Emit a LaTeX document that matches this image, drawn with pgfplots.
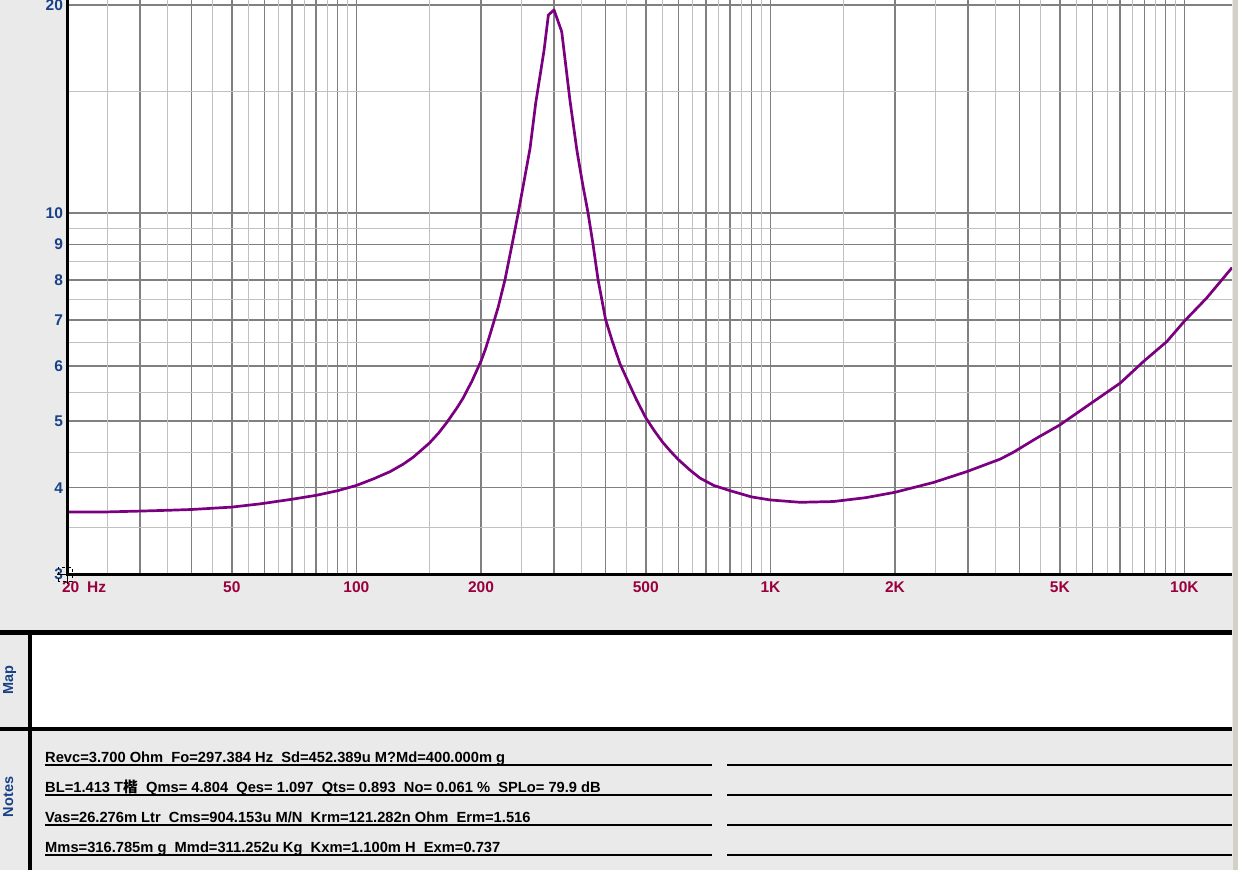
\documentclass[border=0pt]{standalone}
\usepackage{pgfplots}
\pgfplotsset{compat=1.18}
\usepackage{fontspec}
\setmainfont{Liberation Sans}
\newfontfamily\cjk{Noto Sans CJK SC}
\definecolor{bg}{RGB}{234,234,234}
\definecolor{gdark}{RGB}{128,128,128}
\definecolor{glight}{RGB}{192,192,192}
\definecolor{curve}{RGB}{122,0,128}
\definecolor{xlab}{RGB}{153,0,61}
\definecolor{ylab}{RGB}{25,65,135}
\definecolor{edge}{RGB}{212,208,200}
\pgfplotstableread{
f Z
20 3.69
25 3.69
30 3.70
35 3.71
40 3.72
50 3.75
58.5 3.79
70 3.85
80 3.90
90 3.96
100 4.03
110 4.12
120.6 4.22
130 4.33
137.3 4.43
150 4.64
158 4.80
165.3 4.97
175 5.22
181.3 5.40
185 5.53
190 5.70
195 5.90
200 6.10
205 6.35
210 6.65
215 6.97
220 7.30
228.5 8.0
237.7 9.0
246 10.0
254 11.1
262.7 12.4
271 14.4
284 17.2
290.9 19.34
300.2 19.67
313.3 18.29
328 14.55
341 12.3
352 11.0
362.7 10.0
372.9 9.0
383.5 8.0
400 7.0
415 6.52
433 6.05
453 5.70
475 5.36
500 5.05
525 4.83
550 4.65
575 4.51
600 4.39
640 4.24
676 4.13
730 4.03
800 3.96
900 3.88
1000 3.84
1180 3.81
1420 3.82
1700 3.87
2000 3.94
2475 4.07
2980 4.22
3590 4.40
3860 4.50
4400 4.72
5000 4.93
6030 5.33
7000 5.67
7960 6.09
9065 6.51
10000 6.97
11320 7.53
13032 8.33
}\zdata
\begin{document}
\begin{tikzpicture}[x=1pt,y=1pt]
\fill[bg] (0,0) rectangle (1238,870);
\begin{axis}[
  at={(67pt,296pt)}, anchor=south west,
  scale only axis, width=1165pt, height=574pt,
  xmode=log, ymode=log,
  xmin=20, xmax=13032, ymin=3, ymax=20.33,
  axis background/.style={fill=white},
  axis line style={draw=none},
  xtick={20,30,40,50,60,70,80,90,100,200,300,400,500,600,700,800,900,1000,2000,3000,4000,5000,6000,7000,8000,9000,10000},
  xticklabels={{\makebox[0pt][l]{\hspace{-5pt}20\hspace{8pt}Hz}},{},{},50,{},{},{},{},100,200,{},{},500,{},{},{},{},1K,2K,{},{},5K,{},{},{},{},10K},
  ytick={3,4,5,6,7,8,9,10,20},
  yticklabels={3,4,5,6,7,8,9,10,20},
  minor xtick={}, minor ytick={},
  xmajorgrids, ymajorgrids,
  major grid style={gdark, line width=1.6pt},
  extra x ticks={25,35,45,55,65,75,85,95,150,250,350,450,550,650,750,850,950,1500,2500,3500,4500,5500,6500,7500,8500,9500},
  extra x tick labels={},
  extra x tick style={xmajorgrids, major grid style={glight, line width=0.9pt}},
  extra y ticks={3.5,4.5,5.5,6.5,7.5,8.5,9.5,15},
  extra y tick labels={},
  extra y tick style={ymajorgrids, major grid style={glight, line width=0.9pt}},
  major tick length=0pt, minor tick length=0pt,
  tick style={draw=none},
  xticklabel style={font=\bfseries\fontsize{15.5}{15.5}\selectfont, text=xlab, yshift=-4.5pt},
  yticklabel style={font=\bfseries\fontsize{15.5}{15.5}\selectfont, text=ylab, xshift=-0.5pt},
]
\addplot[curve, line width=2.7pt, line join=round] table[x=f, y=Z] {\zdata};
\end{axis}
% axis lines
\draw[line width=3.3pt] (67.4,294) -- (67.4,870);
\draw[line width=3pt] (66,295.3) -- (1232,295.3);
% cursor icon
\draw[black, line width=0.7pt, dashed] (58,289) rectangle (72,303);
\draw[black, line width=0.8pt] (57,296) -- (77,296) (67,286) -- (67,306);
% lower panels
\fill[black] (0,235) rectangle (1232,240);
\fill[white] (32,143) rectangle (1232,235);
\fill[black] (0,139) rectangle (1232,143);
\fill[black] (28,0) rectangle (32,240);
\node[rotate=90, anchor=base, text=ylab, font=\bfseries\fontsize{14.5}{14.5}\selectfont, inner sep=0pt] at (13,190) {Map};
\node[rotate=90, anchor=base, text=ylab, font=\bfseries\fontsize{14.5}{14.5}\selectfont, inner sep=0pt] at (13,73) {Notes};
% notes
\begin{scope}[font=\bfseries\fontsize{14.7}{14.7}\selectfont]
\foreach \yy in {105,75,45,15} {
  \draw[line width=2pt] (45,\yy) -- (712,\yy);
  \draw[line width=2pt] (727,\yy) -- (1232,\yy);
}
\node[anchor=base west, inner sep=0pt] at (45,108) {Revc=3.700 Ohm\ \ Fo=297.384 Hz\ \ Sd=452.389u M?Md=400.000m g};
\node[anchor=base west, inner sep=0pt] at (45,78) {BL=1.413 T{\cjk 楷}\ \ Qms= 4.804\ \ Qes= 1.097\ \ Qts= 0.893\ \ No= 0.061 \%\ \ SPLo= 79.9 dB};
\node[anchor=base west, inner sep=0pt] at (45,48) {Vas=26.276m Ltr\ \ Cms=904.153u M/N\ \ Krm=121.282n Ohm\ \ Erm=1.516};
\node[anchor=base west, inner sep=0pt] at (45,18) {Mms=316.785m g\ \ Mmd=311.252u Kg\ \ Kxm=1.100m H\ \ Exm=0.737};
\end{scope}
\fill[edge] (1232.5,0) rectangle (1238,870);
\pgfresetboundingbox
\useasboundingbox (0,0) rectangle (1238,870);
\end{tikzpicture}
\end{document}
